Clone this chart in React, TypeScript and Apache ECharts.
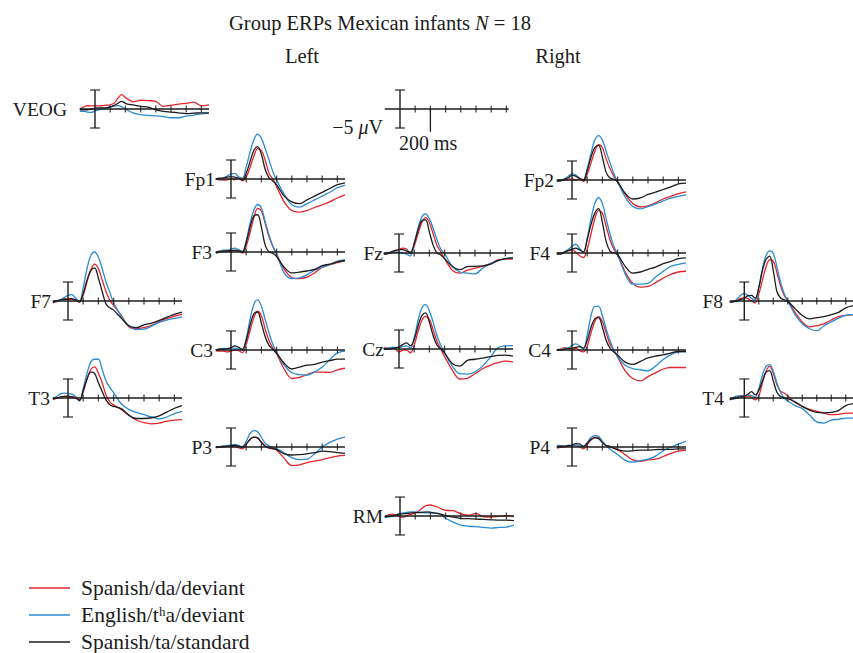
import React, { useEffect, useRef } from "react";
import * as echarts from "echarts";

// time points (ms)
const T = [-100, -75, -50, -25, 0, 25, 50, 75, 100, 125, 150, 175, 200, 225, 250, 275, 300, 350, 400, 450, 500, 550, 600, 650, 700, 750];
const TICKS = [100, 200, 300, 400, 500, 600, 700];
const SERIES_NAMES = ["Spanish/da/deviant", "English/tʰa/deviant", "Spanish/ta/standard"];

// values in µV (upward positive as drawn)
const veog_da = [0, 0.5, 0.9, 0.8, 0.8, 0.8, 0.9, 1, 1.1, 1.5, 2.8, 3.8, 3, 2.4, 1.9, 2.1, 2.3, 2.2, 2, 0.7, 1, 1.3, 1.5, 1.8, 0.8, 1.1];
const veog_tha = [-0.6, -0.6, -0.8, -0.9, -0.5, -0.2, 0, 0.3, 0.5, 0.8, 0.9, 0.6, 0, -0.6, -1, -1.3, -1.5, -1.7, -1.8, -2, -2.3, -2.3, -1.9, -1.6, -1.3, -1.1];
const veog_ta = [-0.2, -0.2, -0.2, 0, 0.2, 0.3, 0.3, 0.3, 0.6, 0.9, 1.5, 2, 1.5, 1.2, 1.1, 0.9, 0.7, 0.5, -0.2, -0.6, -0.8, -1, -1.2, -1.1, -1, -1];

const fp1_da = [0, -0.2, -0.3, -0.2, 0, -0.2, 0.3, -0.5, 0.5, 3, 6, 8, 7.5, 5, 1.5, 0, -2, -6, -8.3, -8.7, -8.3, -7.5, -6.8, -6, -5, -4.2];
const fp1_tha = [0, -0.2, 0.2, 0.8, 1.3, 1.5, 0.6, 0.2, 3.2, 7, 10.3, 11.8, 10.7, 8, 5, 2, -0.3, -4, -6.8, -7.4, -6.5, -5.5, -4.5, -3.5, -2.3, -1.6];
const fp1_ta = [0, 0.2, 0.3, 0.5, 0.6, 0.5, 0.2, -0.3, 1.5, 4.5, 7.5, 8.5, 6.5, 2.5, 0.3, -0.5, -1.5, -4.5, -6, -6.5, -5.5, -4.5, -3.5, -2.5, -1.5, -1];

const fp2_da = [0, 0, 0, 0.2, 0.3, 0, 0.3, -0.4, 1.5, 4.5, 7.5, 9.3, 8.5, 5.5, 3, 1, -0.5, -3.8, -6.2, -7.1, -6.8, -6, -5, -4.3, -3.6, -3.1];
const fp2_tha = [-0.3, -0.1, 0.3, 1, 1.7, 1.3, 0.5, 0.1, 3, 7, 10.5, 11.7, 10.5, 7.5, 4.5, 1.8, -0.5, -4.5, -7, -7.6, -7, -6.3, -5.5, -4.8, -4.3, -3.9];
const fp2_ta = [-0.3, -0.2, 0.2, 0.6, 1.2, 1, 0.4, 0, 2.5, 6, 8.5, 9.1, 6, 2, 0.5, 0.2, -0.5, -3.5, -5, -4.7, -3.8, -3.2, -2.5, -1.8, -1, -0.8];

const f3_da = [0, 0.2, 0.3, 0.2, 0.2, 0.3, 0.3, -0.3, 1.5, 5, 9, 11.5, 10.8, 7.5, 4, 1.5, -0.5, -4.5, -6.7, -7, -6.6, -5.5, -4, -3.3, -2.8, -2.3];
const f3_tha = [-0.2, 0.2, 0.5, 0.5, 0.8, 1, 0.6, 0.2, 3, 7.5, 11, 12.5, 11.5, 8, 4.5, 1.5, -0.5, -5.5, -7, -6.8, -6, -4.8, -4, -3.3, -2.4, -2];
const f3_ta = [-0.3, 0, 0.2, 0.3, 0.4, 0.5, 0.3, 0, 2.5, 6.5, 9.5, 9.8, 6.5, 1.8, 0, -0.3, -1.2, -4, -5.5, -5.3, -5, -4.6, -3.6, -3.2, -2.6, -2.3];

const fz_da = [-0.3, -0.1, 0.2, 0.5, 0.9, 1.3, 1, -0.2, 1.8, 5, 8, 9.3, 8, 5, 2, 0.3, -1.5, -4.5, -5.3, -4.5, -4, -3.5, -2.8, -1.8, -1.6, -1.6];
const fz_tha = [-0.2, 0, 0.1, 0.2, 0.2, 0.1, -0.3, -0.8, 2.5, 6.5, 9.5, 10.3, 9, 6.5, 3.5, 1, -0.2, -3.5, -5, -5.3, -5.5, -4, -2.8, -2, -1.5, -1.2];
const fz_ta = [-0.3, -0.2, 0.3, 0.7, 0.9, 0.9, 0.5, 0.2, 2.5, 6, 8.5, 8.7, 5.5, 2, 0, -0.5, -1.5, -3.5, -4.4, -3.6, -3.5, -3.4, -3, -2, -1.5, -1.3];

const f4_da = [0, 0, 0.2, 0.6, 0.8, 0.2, -0.7, -1.2, 1, 5, 9, 11.2, 10.5, 7, 3.5, 1, -0.5, -5, -8, -9, -8.8, -7.8, -6.6, -5.6, -5, -4.8];
const f4_tha = [-0.3, -0.1, 0.3, 0.9, 1.8, 2.3, 1.2, 0.2, 4, 9, 13, 14.6, 13, 9, 5, 1.8, -0.3, -5.5, -8.2, -8.2, -8, -6.3, -4.8, -3.5, -3, -2.6];
const f4_ta = [-0.3, -0.3, 0.2, 0.6, 1, 1.3, 0.8, 0.3, 3.5, 7.5, 10.5, 11.7, 8, 3, 0.5, 0, -0.4, -3.5, -5.3, -5, -4.3, -3.7, -2.8, -2.2, -1.5, -1.3];

const f7_da = [-0.5, -0.2, 0.3, 0.6, 0.5, 0.4, 0.2, -0.3, 1.5, 5, 8.2, 9.7, 8.5, 5.5, 2.5, 0.2, -1.2, -3.7, -6.8, -7.3, -7, -6.4, -5.4, -4.6, -4, -3.5];
const f7_tha = [-0.2, 0, 0.3, 0.9, 1.5, 1.7, 0.8, -0.2, 3.5, 8.5, 12, 12.9, 11.5, 8.5, 5, 2.3, -0.5, -4, -6.5, -7.5, -7.4, -6.6, -5.6, -5, -4.6, -4.2];
const f7_ta = [-0.3, 0, 0.3, 0.4, 0.5, 0.6, 0.3, -0.2, 2, 5.5, 8, 8.7, 6, 2.5, -0.8, -1.8, -2.4, -4.5, -6.5, -7, -6.3, -5.8, -5.1, -4.3, -3.5, -2.9];

const f8_da = [-0.3, -0.1, 0.2, 0.7, 0.8, 0.6, 0, -0.5, 1.8, 5.5, 9, 10.8, 10.5, 7.5, 4, 1.5, 0, -3, -5.5, -6.8, -6.5, -6, -5, -4.1, -3.8, -3.6];
const f8_tha = [-0.4, -0.2, 0.5, 1.5, 2, 1.5, 0.7, 0.3, 3.5, 8.5, 12, 13.2, 12.5, 9, 5, 2, 0, -3.5, -6, -7.3, -7.8, -6.5, -5.5, -4.5, -3.8, -3.6];
const f8_ta = [-0.2, -0.2, 0, 0.4, 0.7, 1.4, 1.5, 0.7, 3.5, 8, 11, 11.8, 8, 2.5, 0.8, 0.3, -0.1, -2, -3.8, -4.7, -4.4, -4.1, -3.6, -3, -1.8, -1.2];

const c3_da = [-0.2, -0.3, -0.3, -0.5, -0.3, 0, -0.2, -0.7, 1.5, 5, 8.5, 10.2, 9, 5.5, 2.5, 0.5, -1, -5, -7.5, -7.2, -6.5, -5.8, -5.8, -5.9, -5.2, -4.8];
const c3_tha = [0, 0.3, 0.4, 0.4, 0.5, 0.5, 0.3, 0, 3, 8, 12, 13.2, 11.5, 8, 4.5, 1.5, -0.5, -4, -6, -6.5, -6.6, -5.8, -4.5, -2.5, -0.8, -0.3];
const c3_ta = [0, 0.2, 0.2, 0.3, 0.6, 1.1, 0.7, 0.2, 2.5, 6.5, 9.5, 10, 7, 3.5, 1.2, 0.2, -0.9, -3.5, -5, -4.5, -4, -3.8, -3.2, -2.8, -2.4, -2.4];

const cz_da = [0.3, 0.2, 0.2, 0, -0.8, -0.3, -0.3, -1, 1, 4.5, 7.5, 8.6, 7.8, 5, 2, 0, -2, -5.5, -7.9, -7.7, -6.5, -5.2, -4.3, -3.6, -3.2, -3.4];
const cz_tha = [0, 0.2, 0.4, 0.4, 0.4, 0.7, 0.8, 0.2, 3, 7.5, 10.8, 11.7, 10, 7, 3.5, 1, -1, -4.5, -6.5, -6.6, -6, -4.5, -2.2, 0.3, 0.8, 0.9];
const cz_ta = [0, 0, 0.1, 0.3, 0.5, 1.2, 1.6, 0.8, 2.5, 6, 8.8, 9.5, 7, 3.5, 1, 0, -1, -3.8, -4.5, -3, -2.7, -2.4, -2, -1.7, -1.6, -1.9];

const c4_da = [0.1, 0.2, 0.6, 0.3, 0, 0.5, -0.2, -0.5, 1, 4.5, 7.5, 8.8, 7.5, 4.5, 1.5, 0, -1.8, -5.5, -7.5, -8.1, -7, -6, -5, -4.6, -4.6, -4.6];
const c4_tha = [0, 0.1, 0.3, 0.5, 1.2, 1.6, 1.1, 0.2, 4, 9, 11.5, 11.5, 9, 5.5, 2.5, 0, -1.8, -4, -4.9, -5.2, -5.5, -4.2, -2.5, -1.2, -0.5, -0.4];
const c4_ta = [0, 0, 0.2, 0.4, 0.5, 0.7, 0.9, 0.5, 2.5, 6, 8.2, 8.5, 6, 2.5, 0.5, -0.5, -1.3, -3.2, -3.8, -3, -2.1, -1.6, -1.3, -0.8, -0.4, -0.4];

const t3_da = [-0.3, 0, 0.2, 0.4, 0.3, 0.3, 0.3, -0.5, 1.5, 5, 7.5, 8.2, 6.5, 4, 0.8, -1, -1.8, -3, -4.5, -5.8, -6.5, -6.8, -6.6, -6.1, -5.8, -5.7];
const t3_tha = [0, 0.4, 1.1, 1.3, 1.2, 1, 0.3, -0.8, 2.5, 6.5, 9.5, 10.2, 10.2, 7.5, 4.5, 2.8, 1.4, -1.5, -3, -3.8, -4.4, -5, -5.5, -5, -4.1, -3.5];
const t3_ta = [-0.3, -0.1, 0.2, 0.4, 0.5, 0.3, 0, -0.6, 2, 5, 6.8, 6.5, 4, 1.7, -0.5, -1.8, -2.2, -2.8, -4.5, -5.4, -5.4, -5.2, -4.7, -3.7, -2.7, -2];

const t4_da = [-0.3, 0, 0.4, 0.6, 0.3, 0.5, 0.2, -0.5, 0.5, 4, 7, 8.3, 6.5, 3.5, 1.8, 1.3, 0.5, -1.2, -2.2, -3, -3.5, -4, -4.4, -4.3, -4, -4];
const t4_tha = [-0.5, 0.2, 0.5, 0.5, 0.6, 0.8, 0.6, 0.2, 2.5, 6, 8.3, 8.8, 7, 4, 1.5, 0, -0.8, -2, -2.8, -4.5, -6.3, -6.6, -5.8, -5.6, -5.3, -5.3];
const t4_ta = [-0.4, -0.2, 0, 0.3, 0.5, 1, 1.7, 0.8, 2, 4.5, 6.8, 7.2, 4.5, 1.5, 0.4, 0, -0.2, -1, -2.2, -3.2, -3.8, -3.9, -3.8, -3.3, -2, -1.5];

const p3_da = [-0.2, 0, 0.2, 0.3, 0.1, 0.2, -0.2, -0.5, 0.8, 2, 2.6, 2.4, 1.3, 0.3, -0.3, -0.5, -0.8, -3, -4.9, -4.7, -4.1, -3.7, -3.3, -2.8, -2.4, -2.2];
const p3_tha = [0, 0.1, 0.3, 0.4, 0.5, 0.7, 0.4, 0, 1.5, 3.5, 4.3, 4, 2.5, 1, 0.3, -0.2, -0.5, -1.5, -2.8, -3.3, -3.2, -1.8, 0, 1.2, 2.1, 2.6];
const p3_ta = [0, 0, 0, 0.2, 0.3, 0.4, 0.2, 0, 0.8, 2, 2.6, 2.4, 1.2, 0.2, -0.2, -0.4, -0.7, -1.8, -2.1, -2, -1.8, -1.5, -1.1, -1.2, -1.5, -1.7];

const p4_da = [-0.3, -0.1, 0, 0.2, 0.3, 0.3, 0.1, -0.5, 0.6, 1.8, 2.6, 2.4, 1.3, 0.4, 0, -0.3, -0.7, -2, -3.4, -3.8, -3.4, -3.2, -2.5, -1.7, -1.1, -0.9];
const p4_tha = [0.5, 0.3, 0.2, 0.3, 0.4, 0.5, 0.3, 0, 1.2, 2.5, 3, 2.8, 1.5, 0.3, -0.5, -1.3, -2, -3.5, -4, -3.6, -3.2, -2.4, -1, 0, 0.8, 1.5];
const p4_ta = [0, 0.2, 0.2, 0.4, 0.5, 0.9, 0.8, 0.2, 1, 2, 2.4, 2.2, 1.2, 0.4, 0.2, -0.3, -0.7, -1.1, -1, -0.8, -0.8, -0.7, -0.6, -0.6, -0.5, -0.5];

const rm_da = [-0.2, 0.3, 0.5, 0.2, -0.2, -0.3, 0.2, 0.5, 0.8, 1.4, 2.2, 2.8, 2.9, 2.6, 2.3, 1.8, 1.5, 1.4, 0.6, 0.2, 0.7, -0.2, -0.3, -0.1, 0.1, -0.2];
const rm_tha = [-0.4, -0.2, 0, 0.3, 0.7, 0.8, 1, 1.1, 1.1, 1, 0.9, 0.8, 0.8, 0.7, 0.6, 0.2, -0.6, -1.6, -2.4, -2.7, -2.8, -3, -3.2, -3, -2.9, -2.4];
const rm_ta = [-0.2, -0.1, 0, 0.3, 0.5, 0.6, 0.7, 0.8, 0.9, 0.9, 1, 1.1, 1, 0.8, 0.7, 0.4, 0.1, -0.3, -0.6, -0.7, -0.8, -0.9, -1, -1.1, -1.1, -1.2];

const FONT = '"Liberation Serif", "Times New Roman", serif';
const RED = "#e4262c";
const BLUE = "#2b8bd4";
const BLACK = "#1c1c1c";
const KX = 0.152; // px per ms
const KY = 3.8; // px per µV
const XMIN = -100;
const XMAX = 750;
const YMIN = -12;
const YMAX = 16;
const BAR = 5;
const FS = 19.5;
const FS_TITLE = 20.5;
const FS_LEG = 21.5;

type Panel = { label: string; bx: number; ay: number; lab: number; da?: number[]; tha?: number[]; ta?: number[]; calib?: boolean };

const PANELS: Panel[] = [
  { label: "VEOG", bx: 95, ay: 109, lab: 28, da: veog_da, tha: veog_tha, ta: veog_ta },
  { label: "", bx: 400, ay: 109, lab: 0, calib: true },
  { label: "Fp1", bx: 231, ay: 179, lab: 16, da: fp1_da, tha: fp1_tha, ta: fp1_ta },
  { label: "Fp2", bx: 572, ay: 180, lab: 18, da: fp2_da, tha: fp2_tha, ta: fp2_ta },
  { label: "F3", bx: 231, ay: 252, lab: 19, da: f3_da, tha: f3_tha, ta: f3_ta },
  { label: "Fz", bx: 399, ay: 253, lab: 16, da: fz_da, tha: fz_tha, ta: fz_ta },
  { label: "F4", bx: 572, ay: 253, lab: 22, da: f4_da, tha: f4_tha, ta: f4_ta },
  { label: "F7", bx: 68, ay: 301, lab: 17, da: f7_da, tha: f7_tha, ta: f7_ta },
  { label: "F8", bx: 745, ay: 301, lab: 22, da: f8_da, tha: f8_tha, ta: f8_ta },
  { label: "C3", bx: 231, ay: 350, lab: 18, da: c3_da, tha: c3_tha, ta: c3_ta },
  { label: "Cz", bx: 399, ay: 349, lab: 15, da: cz_da, tha: cz_tha, ta: cz_ta },
  { label: "C4", bx: 572, ay: 350, lab: 21, da: c4_da, tha: c4_tha, ta: c4_ta },
  { label: "T3", bx: 68, ay: 398, lab: 18, da: t3_da, tha: t3_tha, ta: t3_ta },
  { label: "T4", bx: 745, ay: 398, lab: 21, da: t4_da, tha: t4_tha, ta: t4_ta },
  { label: "P3", bx: 231, ay: 447, lab: 19, da: p3_da, tha: p3_tha, ta: p3_ta },
  { label: "P4", bx: 572, ay: 447, lab: 22, da: p4_da, tha: p4_tha, ta: p4_ta },
  { label: "RM", bx: 400, ay: 516, lab: 17, da: rm_da, tha: rm_tha, ta: rm_ta },
];

function buildOption() {
  const grid: any[] = [];
  const xAxis: any[] = [];
  const yAxis: any[] = [];
  const series: any[] = [];
  const graphic: any[] = [];

  PANELS.forEach((p, idx) => {
    grid.push({
      left: p.bx + XMIN * KX,
      top: p.ay - YMAX * KY,
      width: (XMAX - XMIN) * KX,
      height: (YMAX - YMIN) * KY,
    });
    xAxis.push({ gridIndex: idx, type: "value", min: XMIN, max: XMAX, show: false });
    yAxis.push({ gridIndex: idx, type: "value", min: YMIN, max: YMAX, show: false });
    const c = { xAxisIndex: idx, yAxisIndex: idx, silent: true, clip: false };
    const xEnd = p.calib ? 715 : XMAX;

    if (!p.calib) {
      const sets: [number[] | undefined, string, string][] = [
        [p.da, RED, SERIES_NAMES[0]],
        [p.tha, BLUE, SERIES_NAMES[1]],
        [p.ta, BLACK, SERIES_NAMES[2]],
      ];
      sets.forEach(([arr, col, nm]) => {
        if (!arr) return;
        series.push({
          ...c,
          type: "line",
          name: nm,
          data: T.map((t, i) => [t, arr[i]]),
          symbol: "none",
          smooth: 0.35,
          lineStyle: { color: col, width: 1.3 },
          z: 3,
        });
      });
    }
    // axis line
    series.push({ ...c, type: "line", data: [[XMIN, 0], [xEnd, 0]], symbol: "none", lineStyle: { color: BLACK, width: 1.3 }, z: 4 });
    // ticks
    series.push({ ...c, type: "scatter", data: TICKS.map((t) => [t, 0]), symbol: "rect", symbolSize: [1.3, 7], itemStyle: { color: BLACK }, z: 4 });
    // scale bar
    series.push({ ...c, type: "line", data: [[0, -BAR], [0, BAR]], symbol: "none", lineStyle: { color: BLACK, width: 1.4 }, z: 4 });
    series.push({ ...c, type: "scatter", data: [[0, -BAR], [0, BAR]], symbol: "rect", symbolSize: [10, 1.4], itemStyle: { color: BLACK }, z: 4 });

    if (p.calib) {
      series.push({ ...c, type: "line", data: [[200, 0], [200, -6]], symbol: "none", lineStyle: { color: BLACK, width: 1.3 }, z: 4 });
      graphic.push({
        type: "text",
        x: p.bx - 17,
        y: p.ay + 18,
        style: {
          text: "−5 {i|μ}V",
          rich: { i: { fontStyle: "italic", fontFamily: FONT, fontSize: 20, fill: BLACK } },
          fontFamily: FONT,
          fontSize: 20,
          fill: BLACK,
          align: "right",
          verticalAlign: "middle",
        },
      });
      graphic.push({
        type: "text",
        x: p.bx - 1,
        y: p.ay + 34,
        style: { text: "200 ms", fontFamily: FONT, fontSize: 20, fill: BLACK, align: "left", verticalAlign: "middle" },
      });
    } else {
      graphic.push({
        type: "text",
        x: p.bx - p.lab,
        y: p.ay,
        style: { text: p.label, fontFamily: FONT, fontSize: FS, fill: BLACK, align: "right", verticalAlign: "middle" },
      });
    }
  });

  // title and hemisphere headings
  graphic.push({
    type: "text",
    x: 380,
    y: 23,
    style: {
      text: "Group ERPs Mexican infants {i|N} = 18",
      rich: { i: { fontStyle: "italic", fontFamily: FONT, fontSize: FS_TITLE, fill: BLACK } },
      fontFamily: FONT,
      fontSize: FS_TITLE,
      fill: BLACK,
      align: "center",
      verticalAlign: "middle",
    },
  });
  graphic.push({ type: "text", x: 302, y: 56, style: { text: "Left", fontFamily: FONT, fontSize: FS_TITLE, fill: BLACK, align: "center", verticalAlign: "middle" } });
  graphic.push({ type: "text", x: 558, y: 56, style: { text: "Right", fontFamily: FONT, fontSize: FS_TITLE, fill: BLACK, align: "center", verticalAlign: "middle" } });

  // legend
  const legCols = [RED, BLUE, BLACK];
  const legY = [588, 615, 642];
  SERIES_NAMES.forEach((nm, i) => {
    graphic.push({ type: "line", shape: { x1: 29, y1: legY[i], x2: 70, y2: legY[i] }, style: { stroke: legCols[i], lineWidth: 1.3 } });
    graphic.push({ type: "text", x: 81, y: legY[i], style: { text: nm, fontFamily: FONT, fontSize: FS_LEG, fill: BLACK, align: "left", verticalAlign: "middle" } });
  });

  return {
    animation: false,
    backgroundColor: "#ffffff",
    grid,
    xAxis,
    yAxis,
    series,
    graphic,
  };
}

export default function App() {
  const ref = useRef<HTMLDivElement>(null);
  useEffect(() => {
    if (!ref.current) return;
    const chart = echarts.init(ref.current, undefined, { renderer: "svg" });
    chart.setOption(buildOption() as any);
    return () => chart.dispose();
  }, []);
  return <div ref={ref} style={{ position: "absolute", left: 0, top: 0, width: 853, height: 653, background: "#fff" }} />;
}
